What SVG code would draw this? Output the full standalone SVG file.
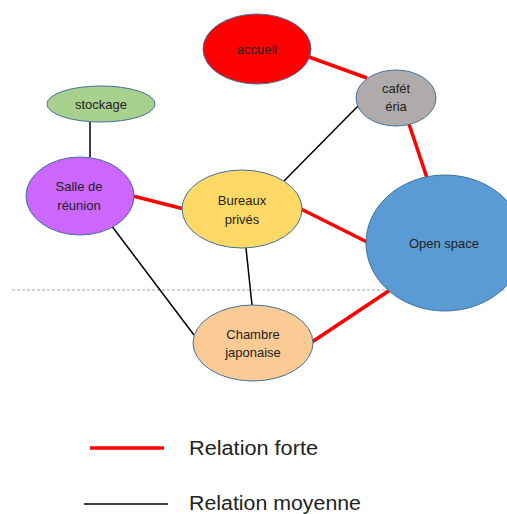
<svg xmlns="http://www.w3.org/2000/svg" width="507" height="514" viewBox="0 0 507 514">
<style>
.n{stroke:#41719C;stroke-width:1}
.t{font-family:"Liberation Sans",Arial,sans-serif;font-size:13px;fill:#222;text-anchor:middle}
.strong{stroke:#FF0000;stroke-width:3.5;fill:none}
.mid{stroke:#000;stroke-width:1.5;fill:none}
.lg{font-family:"Liberation Sans",Arial,sans-serif;font-size:20px;fill:#222}
</style>
<rect width="507" height="514" fill="#fff"/>
<line x1="12" y1="290" x2="507" y2="290" stroke="#aaa" stroke-width="1" stroke-dasharray="3,2"/>
<g id="connectors">
<line class="strong" x1="309" y1="57" x2="367" y2="78"/>
<line class="strong" x1="408" y1="121" x2="428" y2="181"/>
<line class="strong" x1="133" y1="196" x2="184" y2="209"/>
<line class="strong" x1="301" y1="209" x2="367" y2="242"/>
<line class="strong" x1="312" y1="342" x2="390" y2="290"/>
<line class="mid" x1="90" y1="122" x2="90" y2="157"/>
<line class="mid" x1="358" y1="106" x2="284" y2="181"/>
<line class="mid" x1="111" y1="225" x2="194" y2="335"/>
<line class="mid" x1="246" y1="248" x2="252" y2="305"/>
</g>
<g id="accueil"><ellipse class="n" cx="257" cy="49" rx="54" ry="35" fill="#FF0000"/><text class="t" x="257" y="54">accueil</text></g>
<g id="cafeteria"><ellipse class="n" cx="396" cy="98" rx="40" ry="28" fill="#AFABAB"/><text class="t" x="396" y="93">cafét</text><text class="t" x="396" y="111">éria</text></g>
<g id="stockage"><ellipse class="n" cx="101" cy="104" rx="54" ry="18" fill="#A9D18E"/><text class="t" x="101" y="109">stockage</text></g>
<g id="salle"><ellipse class="n" cx="80" cy="196" rx="54" ry="39" fill="#CC66FF"/><text class="t" x="79" y="191">Salle de</text><text class="t" x="79" y="210">réunion</text></g>
<g id="bureaux"><ellipse class="n" cx="242" cy="209" rx="60" ry="39" fill="#FFD966"/><text class="t" x="242" y="205">Bureaux</text><text class="t" x="242" y="224">privés</text></g>
<g id="openspace"><ellipse class="n" cx="445" cy="243" rx="79" ry="68" fill="#5B9BD5"/><text class="t" x="444" y="248">Open space</text></g>
<g id="chambre"><ellipse class="n" cx="253" cy="343" rx="60" ry="38" fill="#FCCB95"/><text class="t" x="253" y="339">Chambre</text><text class="t" x="253" y="357">japonaise</text></g>
<g id="legend">
<line x1="90" y1="448" x2="164" y2="448" stroke="#FF0000" stroke-width="3.5"/>
<text class="lg" x="189" y="455" textLength="129" lengthAdjust="spacingAndGlyphs">Relation forte</text>
<line x1="84" y1="504" x2="168" y2="504" stroke="#000" stroke-width="1.5"/>
<text class="lg" x="189" y="510" textLength="172" lengthAdjust="spacingAndGlyphs">Relation moyenne</text>
</g>
</svg>
